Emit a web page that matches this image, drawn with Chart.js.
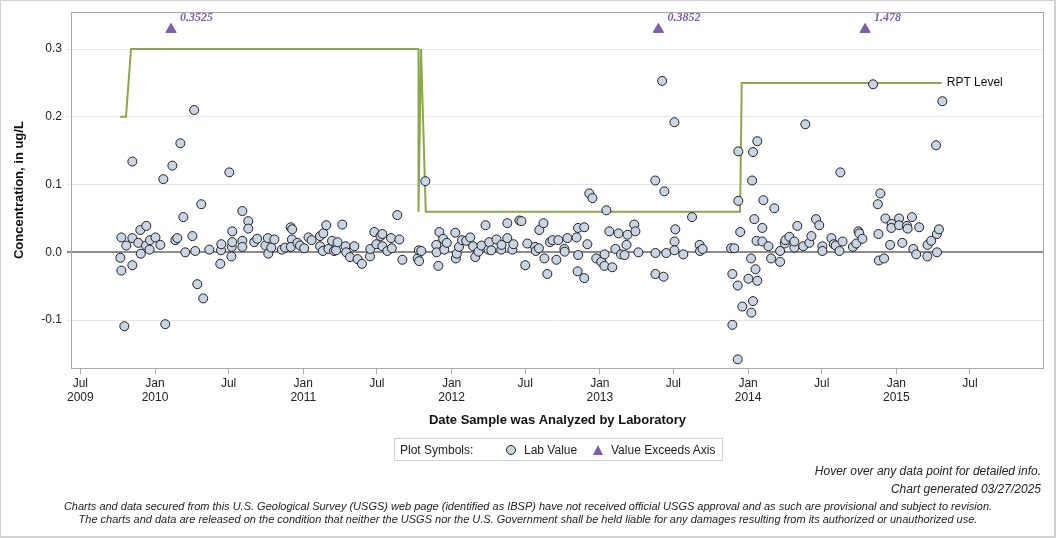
<!DOCTYPE html>
<html>
<head>
<meta charset="utf-8">
<script src="https://cdn.jsdelivr.net/npm/chart.js@4.4.1/dist/chart.umd.min.js"></script>
<style>
  body { margin: 0; background: #fff; font-family: "Liberation Sans", Arial, sans-serif; color: #222; }
  #wrap { position: relative; width: 1056px; height: 538px; overflow: hidden; }
  #frame { position: absolute; left: 0; top: 0; width: 1053px; height: 535px; border: 1px solid #d2d2d2; border-right-width: 2px; border-bottom-width: 2px; }
  #chart { position: absolute; left: 0; top: 0; }
  #legend { position: absolute; left: 394px; top: 438px; width: 327px; height: 21px; border: 1px solid #cfcfcf; font-size: 12px; }
  #legend span { position: absolute; top: 4px; white-space: nowrap; }
  #legend .dot { top: 6px; width: 8px; height: 8px; border-radius: 50%; background: #c9d5e5; border: 1px solid #222; }
  #legend .tri { top: 6px; width: 0; height: 0; border-left: 5px solid transparent; border-right: 5px solid transparent; border-bottom: 10px solid #7b5ea7; }
  .note { position: absolute; right: 15px; font-size: 12px; font-style: italic; white-space: nowrap; }
  .disc { position: absolute; left: 0; width: 1056px; text-align: center; font-size: 11px; font-style: italic; white-space: nowrap; }
</style>
</head>
<body>
<div id="wrap">
  <canvas id="chart" width="1056" height="538"></canvas>
  <div id="legend">
    <span style="left:5px">Plot Symbols:</span>
    <span class="dot" style="left:111px"></span>
    <span style="left:129px">Lab Value</span>
    <span class="tri" style="left:198px"></span>
    <span style="left:216px">Value Exceeds Axis</span>
  </div>
  <div class="note" style="top:464px">Hover over any data point for detailed info.</div>
  <div class="note" style="top:482px">Chart generated 03/27/2025</div>
  <div class="disc" style="top:500px">Charts and data secured from this U.S. Geological Survey (USGS) web page (identified as IBSP) have not received official USGS approval and as such are provisional and subject to revision.</div>
  <div class="disc" style="top:513px">The charts and data are released on the condition that neither the USGS nor the U.S. Government shall be held liable for any damages resulting from its authorized or unauthorized use.</div>
  <div id="frame"></div>
</div>
<script>
// lab values: date as decimal year, concentration in ug/L
const labDates = [
  2009.766, 2009.773, 2009.773, 2009.793, 2009.806, 2009.847, 2009.847, 2009.847, 2009.887, 2009.901,
  2009.904, 2009.941, 2009.939, 2009.963, 2009.966, 2010.003, 2010.036, 2010.056, 2010.069, 2010.117,
  2010.137, 2010.150, 2010.171, 2010.191, 2010.204, 2010.252, 2010.264, 2010.271, 2010.285, 2010.312,
  2010.325, 2010.366, 2010.440, 2010.445, 2010.447, 2010.501, 2010.515, 2010.517, 2010.521, 2010.521,
  2010.589, 2010.589, 2010.589, 2010.629, 2010.629, 2010.669, 2010.689, 2010.744, 2010.761, 2010.764,
  2010.784, 2010.805, 2010.855, 2010.877, 2010.915, 2010.925, 2010.923, 2010.916, 2010.960, 2010.978,
  2011.006, 2011.035, 2011.056, 2011.113, 2011.113, 2011.135, 2011.155, 2011.132, 2011.170, 2011.194,
  2011.207, 2011.221, 2011.231, 2011.263, 2011.285, 2011.290, 2011.315, 2011.344, 2011.366, 2011.396,
  2011.450, 2011.452, 2011.479, 2011.493, 2011.521, 2011.533, 2011.533, 2011.567, 2011.592, 2011.597,
  2011.634, 2011.648, 2011.668, 2011.771, 2011.781, 2011.779, 2011.796, 2011.823, 2011.897, 2011.899,
  2011.911, 2011.918, 2011.943, 2011.951, 2011.968, 2012.025, 2012.029, 2012.035, 2012.050, 2012.071,
  2012.099, 2012.126, 2012.145, 2012.160, 2012.181, 2012.202, 2012.229, 2012.249, 2012.254, 2012.268,
  2012.303, 2012.335, 2012.337, 2012.376, 2012.376, 2012.410, 2012.417, 2012.457, 2012.471, 2012.497,
  2012.511, 2012.564, 2012.568, 2012.589, 2012.592, 2012.620, 2012.626, 2012.646, 2012.664, 2012.681,
  2012.707, 2012.720, 2012.761, 2012.763, 2012.781, 2012.843, 2012.853, 2012.895, 2012.850, 2012.854,
  2012.895, 2012.916, 2012.929, 2012.950, 2012.976, 2013.010, 2013.032, 2013.031, 2013.044, 2013.064,
  2013.084, 2013.105, 2013.126, 2013.143, 2013.167, 2013.180, 2013.187, 2013.232, 2013.240, 2013.260,
  2013.374, 2013.375, 2013.375, 2013.420, 2013.435, 2013.430, 2013.448, 2013.503, 2013.504, 2013.509,
  2013.503, 2013.563, 2013.622, 2013.673, 2013.676, 2013.693, 2013.885, 2013.907, 2013.894, 2013.930,
  2013.894, 2013.930, 2013.934, 2013.934, 2013.947, 2013.961, 2014.027, 2014.020, 2014.002, 2014.033,
  2014.022, 2014.050, 2014.062, 2014.033, 2014.062, 2014.042, 2014.103, 2014.096, 2014.057, 2014.096,
  2014.137, 2014.155, 2014.177, 2014.216, 2014.216, 2014.248, 2014.251, 2014.278, 2014.312, 2014.312,
  2014.332, 2014.372, 2014.386, 2014.413, 2014.427, 2014.458, 2014.480, 2014.501, 2014.501, 2014.562,
  2014.578, 2014.591, 2014.616, 2014.637, 2014.622, 2014.707, 2014.730, 2014.744, 2014.750, 2014.771,
  2014.843, 2014.875, 2014.892, 2014.879, 2014.882, 2014.917, 2014.926, 2014.968, 2014.966, 2014.958,
  2015.018, 2015.018, 2015.040, 2015.072, 2015.076, 2015.105, 2015.114, 2015.134, 2015.154, 2015.209,
  2015.210, 2015.235, 2015.268, 2015.273, 2015.274, 2015.287, 2015.310
];
const labValues = [
  -0.008, 0.022, -0.027, -0.109, 0.010, 0.134, 0.021, -0.019, 0.014, 0.033,
  -0.002, 0.039, 0.010, 0.004, 0.018, 0.022, 0.011, 0.108, -0.106, 0.128,
  0.018, 0.021, 0.161, 0.052, 0.000, 0.024, 0.210, 0.002, -0.047, 0.071,
  -0.068, 0.004, -0.017, 0.003, 0.012, 0.118, -0.006, 0.008, 0.015, 0.031,
  0.061, 0.017, 0.008, 0.046, 0.035, 0.015, 0.020, 0.010, 0.021, -0.002,
  0.007, 0.019, 0.004, 0.007, 0.037, 0.034, 0.019, 0.008, 0.014, 0.010,
  0.006, 0.022, 0.018, 0.009, 0.024, 0.028, 0.040, 0.002, 0.005, 0.017,
  0.002, 0.003, 0.015, 0.041, 0.009, 0.000, -0.007, 0.009, -0.010, -0.017,
  -0.006, 0.005, 0.030, 0.012, 0.024, 0.027, 0.009, 0.002, 0.021, 0.006,
  0.055, 0.019, -0.011, -0.009, -0.013, 0.003, 0.002, 0.105, 0.011, 0.000,
  -0.020, 0.030, 0.020, 0.004, 0.014, 0.029, -0.009, -0.002, 0.008, 0.018,
  0.017, 0.022, 0.009, -0.007, 0.001, 0.010, 0.040, 0.004, 0.015, 0.003,
  0.019, 0.004, 0.011, 0.043, 0.021, 0.004, 0.012, 0.047, 0.046, -0.019,
  0.013, 0.008, 0.002, 0.006, 0.033, 0.043, -0.009, -0.032, 0.015, 0.018,
  -0.011, 0.018, 0.005, 0.001, 0.021, 0.022, 0.036, 0.037, -0.028, -0.004,
  -0.038, 0.012, 0.087, 0.080, -0.009, -0.014, -0.003, -0.020, 0.062, 0.031,
  -0.022, 0.005, 0.028, -0.003, -0.004, 0.011, 0.026, 0.041, 0.031, 0.000,
  0.106, -0.001, -0.032, 0.253, 0.090, -0.036, -0.001, 0.192, 0.016, 0.034,
  0.003, -0.003, 0.052, 0.011, 0.002, 0.005, 0.006, 0.006, -0.032, -0.049,
  -0.107, -0.158, 0.076, 0.149, 0.030, -0.080, 0.106, -0.009, -0.039, -0.072,
  -0.089, -0.025, -0.042, 0.148, 0.164, 0.049, 0.077, 0.036, 0.017, 0.016,
  0.009, -0.009, 0.065, 0.002, -0.014, 0.013, 0.018, 0.023, 0.007, 0.016,
  0.039, 0.009, 0.189, 0.014, 0.024, 0.049, 0.040, 0.009, 0.002, 0.021,
  0.012, 0.010, 0.002, 0.016, 0.118, 0.008, 0.013, 0.031, 0.028, 0.020,
  0.248, 0.071, 0.087, 0.027, -0.012, -0.009, 0.050, 0.042, 0.036, 0.011,
  0.050, 0.040, 0.014, 0.039, 0.035, 0.052, 0.005, -0.003, 0.037, -0.006,
  0.011, 0.017, 0.158, 0.027, 0.000, 0.034, 0.223
];

// reporting level step line
const rptDates = [2009.764, 2009.804, 2009.838, 2011.777, 2011.777, 2011.794, 2011.826, 2013.946, 2013.957, 2015.306];
const rptValues = [0.2, 0.2, 0.3, 0.3, 0.06, 0.3, 0.06, 0.06, 0.25, 0.25];

// values above the axis, drawn as triangles near the top
const exceedDates = [2010.108, 2013.395, 2014.789];
const exceedValues = [0.3525, 0.3852, 1.478];
const exceedPlotLevel = 0.329;

const xMin = 2009.440, xMax = 2015.989;
const yMin = -0.1707, yMax = 0.3544;
const xTickValues = [2009.496, 2010, 2010.496, 2011, 2011.496, 2012, 2012.497, 2013, 2013.496, 2014, 2014.496, 2015, 2015.496];
const xTickLabels = [['Jul', '2009'], ['Jan', '2010'], 'Jul', ['Jan', '2011'], 'Jul', ['Jan', '2012'], 'Jul',
  ['Jan', '2013'], 'Jul', ['Jan', '2014'], 'Jul', ['Jan', '2015'], 'Jul'];
const yTickValues = [-0.1, 0, 0.1, 0.2, 0.3];

const FONT = '"Liberation Sans", Arial, sans-serif';

const plotFrame = {
  id: 'plotFrame',
  beforeDatasetsDraw(chart) {
    const { ctx, chartArea: a } = chart;
    ctx.save();
    ctx.strokeStyle = '#a9a9a9';
    ctx.lineWidth = 1;
    ctx.strokeRect(Math.round(a.left) - 0.5, Math.round(a.top) + 0.5, Math.round(a.width) + 1, Math.round(a.height));
    ctx.restore();
  }
};

const markLabels = {
  id: 'markLabels',
  afterDatasetsDraw(chart) {
    const { ctx, scales: { x, y } } = chart;
    ctx.save();
    ctx.textBaseline = 'middle';
    ctx.font = 'italic bold 12px "Liberation Serif", serif';
    ctx.fillStyle = '#7b5ea7';
    exceedDates.forEach((d, i) => {
      ctx.fillText(String(exceedValues[i]), x.getPixelForValue(d) + 9, y.getPixelForValue(exceedPlotLevel) - 12);
    });
    const n = rptDates.length - 1;
    ctx.font = '12px ' + FONT;
    ctx.fillStyle = '#111';
    ctx.fillText('RPT Level', x.getPixelForValue(rptDates[n]) + 5, y.getPixelForValue(rptValues[n]));
    ctx.restore();
  }
};

new Chart(document.getElementById('chart'), {
  type: 'scatter',
  data: {
    datasets: [
      {
        label: 'RPT Level',
        data: rptDates.map((d, i) => ({ x: d, y: rptValues[i] })),
        showLine: true, borderColor: '#8aa74c', borderWidth: 2, pointRadius: 0, tension: 0, order: 2
      },
      {
        label: 'Lab Value',
        data: labDates.map((d, i) => ({ x: d, y: labValues[i] })),
        pointRadius: 4.5, backgroundColor: '#c9d5e5', borderColor: '#1e1e1e', borderWidth: 1, order: 1
      },
      {
        label: 'Value Exceeds Axis',
        data: exceedDates.map(d => ({ x: d, y: exceedPlotLevel })),
        pointStyle: 'triangle', pointRadius: 6, backgroundColor: '#7b5ea7', borderColor: '#7b5ea7', borderWidth: 1, order: 0
      }
    ]
  },
  options: {
    responsive: false,
    animation: false,
    layout: { padding: { top: 12, right: 13, bottom: 110, left: 0 } },
    plugins: { legend: { display: false }, tooltip: { enabled: false } },
    scales: {
      x: {
        type: 'linear', min: xMin, max: xMax,
        afterBuildTicks: s => { s.ticks = xTickValues.map(v => ({ value: v })); },
        afterFit: s => { s.height = 60; },
        ticks: {
          autoSkip: false, maxRotation: 0, padding: 2, color: '#222',
          font: { family: FONT, size: 12 },
          callback: (v, i) => xTickLabels[i]
        },
        grid: { drawOnChartArea: false, drawTicks: true, tickLength: 6, color: '#a9a9a9' },
        border: { display: false },
        title: {
          display: true, text: 'Date Sample was Analyzed by Laboratory', color: '#111',
          font: { family: FONT, size: 13, weight: 'bold' }, padding: { top: 4, bottom: 0 }
        }
      },
      y: {
        min: yMin, max: yMax,
        afterBuildTicks: s => { s.ticks = yTickValues.map(v => ({ value: v })); },
        afterFit: s => { s.width = 72; },
        ticks: {
          padding: 5, color: '#222',
          font: { family: FONT, size: 12 },
          callback: v => v.toFixed(1)
        },
        grid: {
          tickLength: 5,
          color: c => (c.tick && c.tick.value === 0 ? '#8c8c8c' : '#e6e6e6'),
          lineWidth: c => (c.tick && c.tick.value === 0 ? 2 : 1)
        },
        border: { display: false },
        title: {
          display: true, text: 'Concentration, in ug/L', color: '#111',
          font: { family: FONT, size: 13, weight: 'bold' }, padding: { top: 12, bottom: 0 }
        }
      }
    }
  },
  plugins: [plotFrame, markLabels]
});
</script>
</body>
</html>
